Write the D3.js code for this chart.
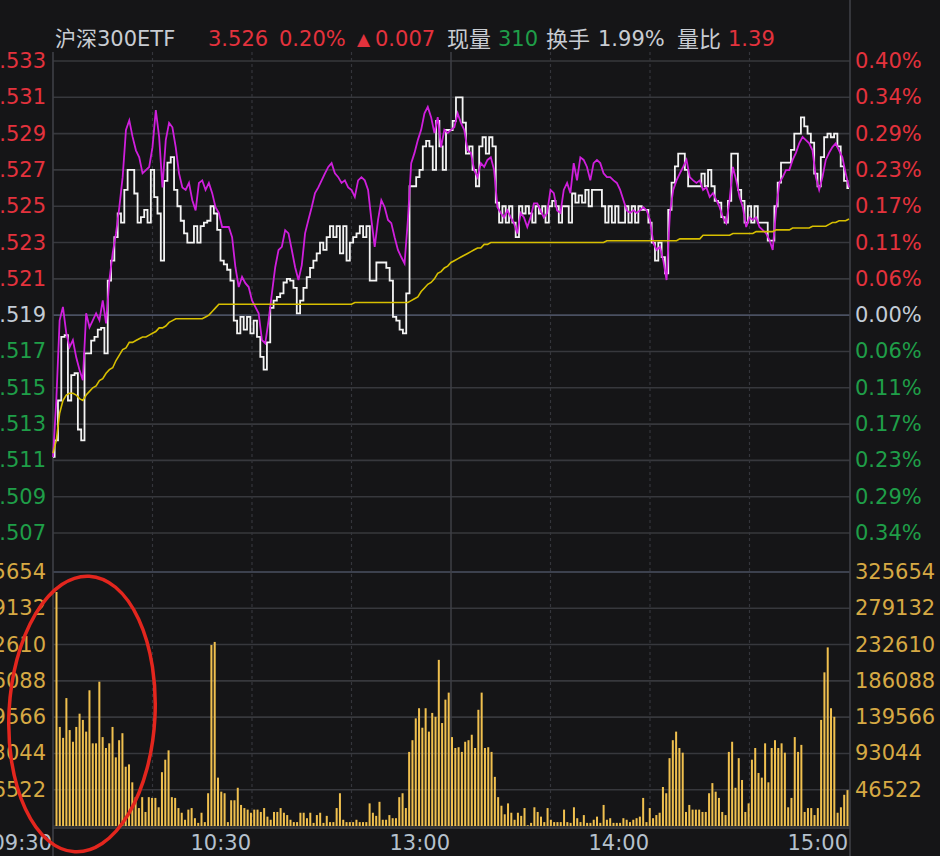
<!DOCTYPE html>
<html><head><meta charset="utf-8">
<script src="https://cdn.jsdelivr.net/npm/d3@7"></script>
<style>html,body{margin:0;padding:0;background:#151517;overflow:hidden}</style>
</head><body><svg id="c" width="940" height="856"></svg>
<script>
// ---------- data ----------
const prevClose = 3.519;
const priceTicks = [3.533,3.531,3.529,3.527,3.525,3.523,3.521,3.519,3.517,3.515,3.513,3.511,3.509,3.507];
const pctTickLabels = ["0.40%","0.34%","0.29%","0.23%","0.17%","0.11%","0.06%","0.00%","0.06%","0.11%","0.17%","0.23%","0.29%","0.34%"];
const volumeTicks = [325654,279132,232610,186088,139566,93044,46522];
const timeTickMinutes = [0,60,120,180,240];
const timeTickLabels = ["09:30","10:30","13:00","14:00","15:00"];
const dashedGridMinutes = [30,60,90,150,180,210];
const sessionBreakMinute = 120;
const headerLabels = ["沪深300ETF","3.526","0.20%","▲","0.007","现量","310","换手","1.99%","量比","1.39"];

// ETF last price per minute (09:30 .. 15:00)
const price = [
3.5112,3.5121,3.5143,3.5178,3.5179,3.5143,3.5157,3.5158,3.5127,3.5121,
3.5169,3.5169,3.5176,3.5178,3.5182,3.5183,3.5169,3.5209,3.5220,3.5233,
3.5246,3.5241,3.5259,3.5270,3.5270,3.5257,3.5241,3.5244,3.5248,3.5241,
3.5270,3.5255,3.5246,3.5220,3.5264,3.5274,3.5277,3.5259,3.5250,3.5242,
3.5235,3.5230,3.5230,3.5239,3.5230,3.5239,3.5241,3.5242,3.5250,3.5246,
3.5237,3.5220,3.5218,3.5215,3.5209,3.5187,3.5180,3.5189,3.5182,3.5189,
3.5180,3.5187,3.5178,3.5167,3.5160,3.5175,3.5194,3.5198,3.5200,3.5202,
3.5208,3.5210,3.5209,3.5205,3.5191,3.5198,3.5205,3.5211,3.5216,3.5220,
3.5224,3.5230,3.5226,3.5233,3.5239,3.5233,3.5239,3.5224,3.5239,3.5220,
3.5230,3.5233,3.5235,3.5239,3.5233,3.5239,3.5209,3.5209,3.5219,3.5219,
3.5219,3.5216,3.5209,3.5189,3.5187,3.5182,3.5180,3.5202,3.5261,3.5261,
3.5266,3.5270,3.5283,3.5286,3.5283,3.5270,3.5297,3.5283,3.5270,3.5292,
3.5292,3.5297,3.5310,3.5310,3.5296,3.5279,3.5283,3.5270,3.5261,3.5283,
3.5288,3.5279,3.5288,3.5283,3.5252,3.5241,3.5250,3.5241,3.5250,3.5241,
3.5233,3.5250,3.5246,3.5250,3.5246,3.5241,3.5250,3.5246,3.5250,3.5241,
3.5250,3.5253,3.5250,3.5241,3.5250,3.5250,3.5241,3.5257,3.5252,3.5256,
3.5252,3.5259,3.5250,3.5259,3.5259,3.5259,3.5250,3.5241,3.5250,3.5241,
3.5250,3.5241,3.5241,3.5250,3.5241,3.5250,3.5241,3.5250,3.5248,3.5248,
3.5241,3.5230,3.5220,3.5230,3.5222,3.5213,3.5248,3.5263,3.5272,3.5279,
3.5279,3.5270,3.5261,3.5261,3.5261,3.5261,3.5268,3.5261,3.5270,3.5261,
3.5253,3.5252,3.5244,3.5241,3.5253,3.5279,3.5279,3.5259,3.5253,3.5241,
3.5250,3.5241,3.5250,3.5241,3.5241,3.5241,3.5231,3.5231,3.5250,3.5263,
3.5274,3.5274,3.5274,3.5281,3.5290,3.5290,3.5299,3.5294,3.5290,3.5285,
3.5268,3.5261,3.5277,3.5288,3.5290,3.5288,3.5290,3.5283,3.5272,3.5264,
3.5260];

// overlaid index, % change per minute
const indexPct = [
-0.222,-0.133,-0.008,0.013,-0.028,-0.050,-0.039,-0.066,-0.086,-0.102,
0.003,-0.019,-0.008,0.003,-0.008,0.023,-0.013,0.055,0.097,0.128,
0.169,0.216,0.290,0.305,0.279,0.258,0.247,0.222,0.227,0.232,
0.263,0.321,0.279,0.200,0.274,0.301,0.294,0.263,0.222,0.200,
0.196,0.207,0.180,0.164,0.207,0.211,0.196,0.207,0.191,0.169,
0.160,0.138,0.138,0.138,0.122,0.075,0.044,0.060,0.050,0.044,
0.023,0.013,0.003,-0.039,-0.044,-0.008,0.034,0.075,0.102,0.107,
0.133,0.128,0.102,0.075,0.055,0.078,0.128,0.149,0.169,0.191,
0.200,0.211,0.222,0.232,0.238,0.222,0.216,0.207,0.211,0.200,
0.196,0.185,0.211,0.216,0.211,0.196,0.149,0.107,0.149,0.180,
0.169,0.149,0.144,0.122,0.102,0.091,0.081,0.149,0.238,0.254,
0.274,0.290,0.316,0.326,0.310,0.285,0.310,0.263,0.290,0.285,
0.290,0.294,0.316,0.301,0.290,0.258,0.254,0.227,0.216,0.238,
0.232,0.243,0.247,0.227,0.169,0.160,0.153,0.164,0.153,0.144,
0.128,0.160,0.153,0.138,0.153,0.175,0.175,0.164,0.153,0.160,
0.196,0.191,0.164,0.160,0.196,0.207,0.191,0.238,0.211,0.247,
0.243,0.232,0.211,0.238,0.243,0.238,0.222,0.216,0.216,0.211,
0.207,0.196,0.180,0.164,0.160,0.164,0.160,0.164,0.169,0.164,
0.149,0.113,0.102,0.107,0.086,0.055,0.160,0.196,0.211,0.222,
0.232,0.243,0.216,0.211,0.207,0.211,0.196,0.200,0.185,0.191,
0.180,0.169,0.153,0.144,0.180,0.232,0.211,0.185,0.169,0.138,
0.153,0.149,0.153,0.138,0.133,0.128,0.118,0.102,0.164,0.207,
0.216,0.227,0.227,0.243,0.254,0.269,0.279,0.274,0.269,0.258,
0.216,0.196,0.216,0.243,0.254,0.263,0.269,0.258,0.247,0.222,
0.200];

// average price per minute
const avgPrice = [
3.5114,3.5121,3.5136,3.5143,3.5146,3.5147,3.5147,3.5146,3.5144,3.5143,
3.5146,3.5148,3.5150,3.5151,3.5154,3.5155,3.5158,3.5160,3.5161,3.5165,
3.5168,3.5171,3.5172,3.5175,3.5175,3.5176,3.5177,3.5178,3.5178,3.5179,
3.5180,3.5181,3.5183,3.5183,3.5184,3.5186,3.5187,3.5188,3.5188,3.5188,
3.5188,3.5188,3.5188,3.5188,3.5188,3.5188,3.5189,3.5190,3.5192,3.5194,
3.5196,3.5196,3.5196,3.5196,3.5196,3.5196,3.5196,3.5196,3.5196,3.5196,
3.5196,3.5196,3.5196,3.5196,3.5196,3.5196,3.5196,3.5196,3.5196,3.5196,
3.5196,3.5196,3.5196,3.5196,3.5196,3.5196,3.5196,3.5196,3.5196,3.5196,
3.5196,3.5196,3.5196,3.5196,3.5196,3.5196,3.5196,3.5196,3.5196,3.5196,
3.5196,3.5197,3.5197,3.5197,3.5197,3.5197,3.5197,3.5197,3.5197,3.5197,
3.5197,3.5197,3.5197,3.5197,3.5197,3.5197,3.5197,3.5197,3.5198,3.5199,
3.5200,3.5203,3.5205,3.5207,3.5208,3.5210,3.5213,3.5214,3.5216,3.5217,
3.5219,3.5220,3.5221,3.5222,3.5223,3.5224,3.5225,3.5226,3.5227,3.5227,
3.5229,3.5229,3.5230,3.5230,3.5230,3.5230,3.5230,3.5230,3.5230,3.5230,
3.5230,3.5230,3.5230,3.5230,3.5230,3.5230,3.5230,3.5230,3.5230,3.5230,
3.5230,3.5230,3.5230,3.5230,3.5230,3.5230,3.5230,3.5230,3.5230,3.5230,
3.5230,3.5230,3.5230,3.5230,3.5230,3.5230,3.5230,3.5231,3.5231,3.5231,
3.5231,3.5231,3.5231,3.5231,3.5231,3.5231,3.5231,3.5231,3.5231,3.5231,
3.5231,3.5231,3.5231,3.5231,3.5231,3.5231,3.5231,3.5231,3.5231,3.5232,
3.5232,3.5232,3.5232,3.5232,3.5232,3.5232,3.5234,3.5234,3.5234,3.5234,
3.5234,3.5234,3.5234,3.5234,3.5234,3.5235,3.5235,3.5235,3.5235,3.5235,
3.5235,3.5235,3.5236,3.5236,3.5236,3.5236,3.5236,3.5236,3.5237,3.5237,
3.5237,3.5237,3.5237,3.5238,3.5238,3.5238,3.5238,3.5238,3.5238,3.5239,
3.5239,3.5239,3.5239,3.5239,3.5240,3.5241,3.5241,3.5242,3.5242,3.5242,
3.5243];

// volume per minute
const volume = [
300000,127000,113000,164000,123000,108000,127000,144000,136000,121000,
174000,106000,106000,185000,114000,100000,106000,127000,88000,110000,
119000,76000,79000,56000,37000,23000,37000,18000,37000,36000,
36000,24000,69000,85000,97000,37000,36000,23000,17000,8000,
21000,23000,10000,4000,17000,5000,42000,232000,236000,62000,
44000,42000,5000,33000,33000,49000,27000,23000,21000,17000,
21000,21000,18000,23000,12000,8000,18000,18000,23000,17000,
14000,8000,5000,5000,17000,17000,10000,17000,4000,14000,
17000,4000,13000,5000,5000,23000,42000,8000,5000,5000,
5000,8000,5000,5000,5000,29000,17000,13000,31000,8000,
8000,14000,10000,10000,37000,42000,23000,95000,110000,138000,
151000,126000,151000,121000,145000,140000,213000,132000,162000,171000,
114000,100000,101000,95000,108000,110000,117000,100000,149000,171000,
100000,101000,95000,63000,37000,26000,15000,29000,17000,8000,
17000,13000,23000,1000,4000,24000,18000,12000,5000,23000,
8000,5000,5000,5000,21000,5000,4000,24000,10000,5000,
14000,4000,4000,8000,12000,4000,27000,8000,10000,4000,
4000,4000,10000,8000,5000,8000,10000,12000,36000,5000,
23000,10000,14000,17000,50000,42000,87000,110000,121000,100000,
94000,18000,27000,21000,21000,21000,18000,18000,42000,55000,
44000,36000,18000,14000,95000,108000,49000,87000,59000,18000,
29000,85000,100000,68000,62000,106000,56000,100000,110000,100000,
106000,94000,24000,36000,114000,95000,104000,18000,23000,23000,
14000,23000,136000,197000,229000,151000,140000,17000,24000,40000,
46000];

// ---------- drawing ----------
const W = 940, H = 856;
const L = 53, R = 850;
const svg = d3.select("#c");
const FONT = "'DejaVu Sans','Noto Sans CJK SC',sans-serif";
const C = {bg:"#151517", grid:"#37383d", gridDash:"#34353b", axis:"#3e3f46", zero:"#4a5062",
  red:"#e3323d", green:"#1f9e48", neutral:"#c3ccd6", gray:"#c8ccd2", vol:"#f0c04f", volText:"#d6a944",
  white:"#f4f4f4", magenta:"#cf1fdc", yellow:"#d7bf00", time:"#b5c1cd"};

svg.append("rect").attr("width",W).attr("height",H).attr("fill",C.bg);

const x = d3.scaleLinear().domain([0,240]).range([L, 849]);
const xBar = d3.scaleLinear().domain([0,240]).range([56.5, 847.5]);
const y = d3.scaleLinear().domain([3.507,3.533]).range([533,61]);
const yV = d3.scaleLinear().domain([0,325654]).range([826,572]);

// horizontal grid (price)
svg.append("g").selectAll("line").data(priceTicks).join("line")
  .attr("x1",L).attr("x2",R).attr("y1",d=>y(d)).attr("y2",d=>y(d))
  .attr("stroke",d=>d===prevClose?C.zero:C.grid).attr("stroke-width",1.6);
// horizontal grid (volume)
svg.append("g").selectAll("line").data(volumeTicks.concat([0])).join("line")
  .attr("x1",L).attr("x2",R).attr("y1",d=>yV(d)).attr("y2",d=>yV(d))
  .attr("stroke",(d,i)=>i===0?C.zero:C.grid).attr("stroke-width",1.6);
// vertical grid
svg.append("g").selectAll("line").data(dashedGridMinutes).join("line")
  .attr("x1",d=>x(d)).attr("x2",d=>x(d)).attr("y1",52).attr("y2",828)
  .attr("stroke",C.gridDash).attr("stroke-width",1.2).attr("stroke-dasharray","3,3");
svg.append("line").attr("x1",x(sessionBreakMinute)).attr("x2",x(sessionBreakMinute))
  .attr("y1",52).attr("y2",828).attr("stroke",C.axis).attr("stroke-width",1.5);
// frame
svg.append("line").attr("x1",L).attr("x2",L).attr("y1",52).attr("y2",856).attr("stroke",C.axis).attr("stroke-width",1.6);
svg.append("line").attr("x1",R).attr("x2",R).attr("y1",0).attr("y2",856).attr("stroke",C.axis).attr("stroke-width",1.6);
svg.append("line").attr("x1",L).attr("x2",R).attr("y1",828).attr("y2",828).attr("stroke",C.axis).attr("stroke-width",1.6);

// volume bars
svg.append("g").selectAll("rect").data(volume).join("rect")
  .attr("x",(d,i)=>xBar(i)-1).attr("width",2)
  .attr("y",d=>yV(d)).attr("height",d=>yV(0)-yV(d))
  .attr("fill",C.vol);

// lines
const lineStep = d3.line().x((d,i)=>x(i)).y(d=>y(d)).curve(d3.curveStep);
const lineLin = d3.line().x((d,i)=>x(i)).y(d=>y(d)).curve(d3.curveLinear);
svg.append("path").datum(price).attr("d",lineStep).attr("fill","none").attr("stroke",C.white).attr("stroke-width",1.8);
svg.append("path").datum(indexPct.map(p=>prevClose*(1+p/100))).attr("d",lineLin)
  .attr("fill","none").attr("stroke",C.magenta).attr("stroke-width",1.8);
svg.append("path").datum(avgPrice).attr("d",lineLin).attr("fill","none").attr("stroke",C.yellow).attr("stroke-width",1.6);

// axis labels (the left column is clipped by the window edge, as in the source)
const colorFor = d => d>prevClose+1e-9?C.red:(d<prevClose-1e-9?C.green:C.neutral);
svg.append("g").selectAll("text").data(priceTicks).join("text")
  .attr("x",46).attr("y",d=>y(d)).attr("text-anchor","end").attr("dominant-baseline","central")
  .attr("font-family",FONT).attr("font-size",21).attr("fill",colorFor).text(d=>d3.format(".3f")(d));
svg.append("g").selectAll("text").data(priceTicks).join("text")
  .attr("x",855).attr("y",d=>y(d)).attr("text-anchor","start").attr("dominant-baseline","central")
  .attr("font-family",FONT).attr("font-size",21).attr("fill",colorFor).text((d,i)=>pctTickLabels[i]);
svg.append("g").selectAll("text").data(volumeTicks).join("text")
  .attr("x",46).attr("y",d=>yV(d)).attr("text-anchor","end").attr("dominant-baseline","central")
  .attr("font-family",FONT).attr("font-size",21).attr("fill",C.volText).text(d=>d);
svg.append("g").selectAll("text").data(volumeTicks).join("text")
  .attr("x",855).attr("y",d=>yV(d)).attr("text-anchor","start").attr("dominant-baseline","central")
  .attr("font-family",FONT).attr("font-size",21).attr("fill",C.volText).text(d=>d);
svg.append("g").selectAll("text").data(timeTickMinutes).join("text")
  .attr("x",d=>x(d)-1).attr("y",843).attr("text-anchor","end").attr("dominant-baseline","central")
  .attr("font-family",FONT).attr("font-size",21).attr("fill",C.time).text((d,i)=>timeTickLabels[i]);

// header
const headerX = [55,208,279,357,375,447,498,546,598,677,728];
const headerColor = [C.gray,C.red,C.red,C.red,C.red,C.gray,C.green,C.gray,C.gray,C.gray,C.red];
const headerSize = [21,21,21,17,21,22,21,22,21,22,21];
svg.append("g").selectAll("text").data(headerLabels).join("text")
  .attr("x",(d,i)=>headerX[i]).attr("y",39).attr("dominant-baseline","central")
  .attr("font-family",FONT).attr("font-size",(d,i)=>headerSize[i]).attr("fill",(d,i)=>headerColor[i]).text(d=>d);

// red annotation ellipse
svg.append("ellipse").attr("cx",82).attr("cy",714).attr("rx",73).attr("ry",138)
  .attr("transform","rotate(3 82 714)").attr("fill","none").attr("stroke","#e3261e").attr("stroke-width",3.5);
</script></body></html>
